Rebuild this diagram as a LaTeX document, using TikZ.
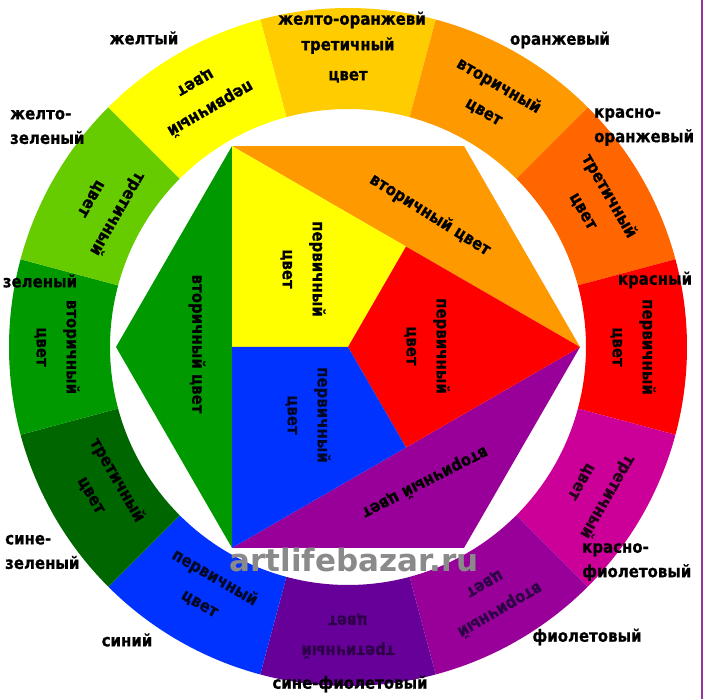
\documentclass[tikz,border=0pt]{standalone}
\usepackage{fontspec}
\setmainfont{DejaVu Sans}
\newfontfamily\lblfont{DejaVu Sans Bold}[FakeStretch=0.88, FakeBold=0.6]
\definecolor{cYel}{HTML}{FFFF00}
\definecolor{cYO}{HTML}{FFCC00}
\definecolor{cOr}{HTML}{FF9900}
\definecolor{cRO}{HTML}{FF6600}
\definecolor{cRed}{HTML}{FF0000}
\definecolor{cRV}{HTML}{CC0099}
\definecolor{cVi}{HTML}{990099}
\definecolor{cBV}{HTML}{660099}
\definecolor{cBlu}{HTML}{0033FF}
\definecolor{cBG}{HTML}{006600}
\definecolor{cGr}{HTML}{009900}
\definecolor{cYG}{HTML}{66CC00}
\definecolor{cLine}{HTML}{993399}
\definecolor{cMark}{HTML}{8A8A8A}
\definecolor{tPur}{HTML}{2E0048}
\begin{document}
\begin{tikzpicture}[x=1pt,y=1pt,
  lbl/.style={font=\fontsize{17}{24.5}\lblfont, inner sep=0pt, align=left},
  seg/.style={font=\fontsize{17}{30}\lblfont, inner sep=0pt, align=center},
  wmark/.style={font=\fontsize{31}{31}\selectfont\bfseries, text=cMark, inner sep=0pt}]
\useasboundingbox (0,0) rectangle (704,699);
\fill[white] (0,0) rectangle (704,699);
\coordinate (C) at (348,352);
\begin{scope}[shift={(C)}]
  % ring
  \foreach \a/\col in {90/cYO,60/cOr,30/cRO,0/cRed,-30/cRV,-60/cVi,-90/cBV,-120/cBlu,-150/cBG,180/cGr,150/cYG,120/cYel}{
    \pgfmathsetmacro{\s}{\a-15}
    \pgfmathsetmacro{\e}{\a+15}
    \fill[\col] (\s:238) -- (\s:339) arc[start angle=\s, end angle=\e, radius=339] -- (\e:238) arc[start angle=\e, end angle=\s, radius=238] -- cycle;
  }
  % inner hexagon
  \fill[cOr] (120:232) -- (60:232) -- (0:232) -- cycle;
  \fill[cVi] (0:232) -- (300:232) -- (240:232) -- cycle;
  \fill[cGr] (120:232) -- (180:232) -- (240:232) -- cycle;
  \fill[cYel] (0,0) -- (60:116) -- (120:232) -- (180:116) -- cycle;
  \fill[cRed] (0,0) -- (60:116) -- (0:232) -- (300:116) -- cycle;
  \fill[cBlu] (0,0) -- (300:116) -- (240:232) -- (180:116) -- cycle;
  % ring texts
  \node[seg, rotate=0]    (s90)  at (90:287)   {третичный\\цвет};
  \node[seg, rotate=-30]  (s60)  at (60:287)   {вторичный\\цвет};
  \node[seg, rotate=-60]  (s30)  at (30:287)   {третичный\\цвет};
  \node[seg, rotate=-90]  (s0)   at (0:285)    {первичный\\цвет};
  \node[seg, rotate=-120, text=black!85!cRV] (sm30) at (-30:285) {третичный\\цвет};
  \node[seg, rotate=-150, text=tPur] (sm60) at (-60:289) {вторичный\\цвет};
  \node[seg, rotate=180, text=tPur]  (sm90) at (-90:289) {третичный\\цвет};
  \node[seg, rotate=-30, text=black!85!cBlu] (sm120) at (-120:281) {первичный\\цвет};
  \node[seg, rotate=-60]  (sm150) at (-150:281) {третичный\\цвет};
  \node[seg, rotate=-90]  (s180) at (180:291)  {вторичный\\цвет};
  \node[seg, rotate=240]  (s150) at (150:281)  {третичный\\цвет};
  \node[seg, rotate=210]  (s120) at (120:290)  {первичный\\цвет};
\end{scope}
% inner texts
\node[seg, rotate=-90] (tY) at (303,430) {первичный\\цвет};
\node[seg, rotate=-90] (tR) at (427,353) {первичный\\цвет};
\node[seg, rotate=-90, text=black!85!cBlu] (tB) at (308,284) {первичный\\цвет};
\node[seg, rotate=-32] (tO) at (430,484) {вторичный цвет};
\node[seg, rotate=-90] (tG) at (197,355) {вторичный цвет};
\node[seg, rotate=207] (tP) at (425,217) {вторичный цвет};
% outer labels
\node[lbl] (l1) at (144,661) {желтый};
\node[lbl] (l2) at (352,679) {желто-оранжевй};
\node[lbl] (l3) at (560,659) {оранжевый};
\node[lbl, anchor=west] (l4) at (594,572) {красно-\\оранжевый};
\node[lbl] (l5) at (655,419) {красный};
\node[lbl, anchor=west] (l6) at (10,572) {желто-\\зеленый};
\node[lbl] (l7) at (40,418) {зеленый};
\node[lbl, anchor=west] (l8) at (5,147) {сине-\\зеленый};
\node[lbl] (l9) at (127,59) {синий};
\node[lbl] (l10) at (350,15) {сине-фиолетовый};
\node[lbl] (l11) at (587,62) {фиолетовый};
\node[lbl, anchor=west] (l12) at (582,137) {красно-\\фиолетовый};
% watermark
\node[wmark] (wm) at (354,139) {artlifebazar.ru};
% right border line
\draw[cLine, line width=2pt] (702,0) -- (702,699);
\end{tikzpicture}
\end{document}
